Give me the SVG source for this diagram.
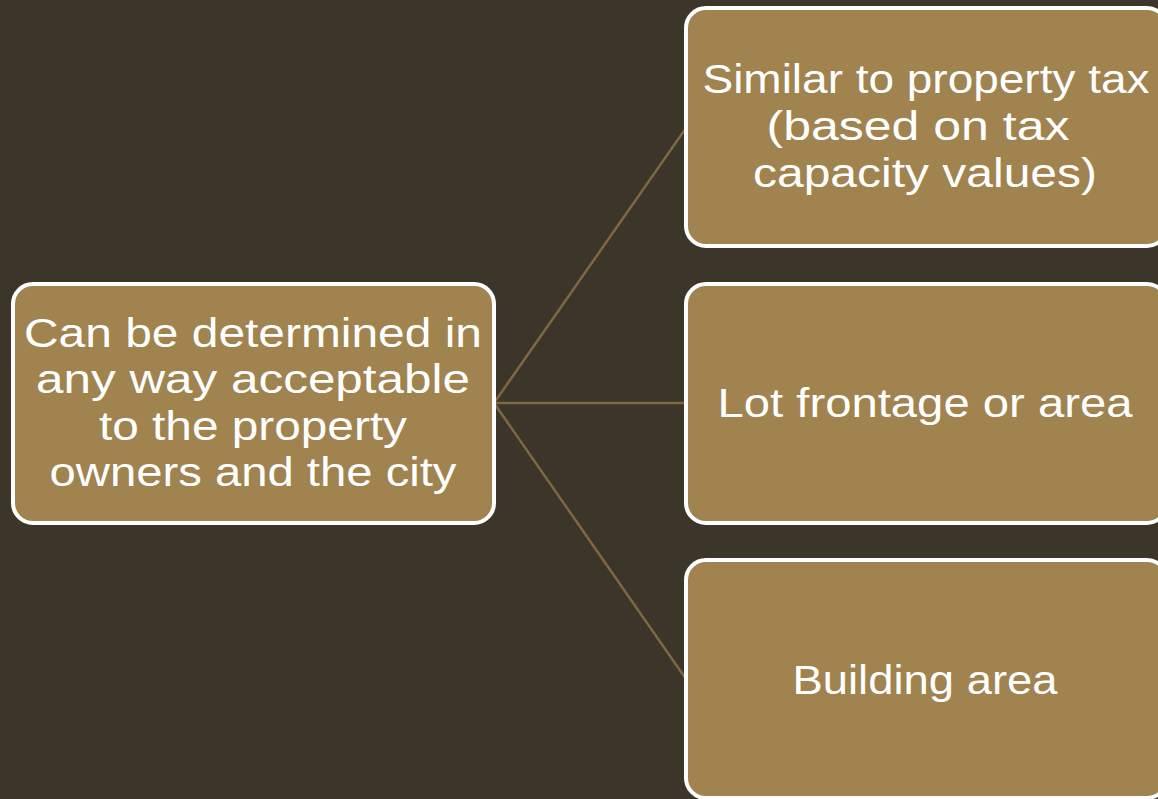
<svg xmlns="http://www.w3.org/2000/svg" width="1158" height="799" viewBox="0 0 1158 799">
<style>
.box{fill:#a0834f;stroke:#ffffff;stroke-width:4}
.t{font-family:"Liberation Sans",Arial,sans-serif;font-size:40px;fill:#ffffff;text-anchor:middle}
.c{stroke:#7d6842;stroke-width:2.5;fill:none}
</style>
<rect x="0" y="0" width="1158" height="799" fill="#3b3629"/>
<g id="connectors">
<line class="c" x1="494" y1="403" x2="686" y2="128"/>
<line class="c" x1="494" y1="403" x2="686" y2="403"/>
<line class="c" x1="494" y1="403" x2="686" y2="679"/>
</g>
<g id="root">
<rect class="box" x="13" y="284" width="481" height="239" rx="20"/>
<text class="t" x="253" y="347" textLength="458" lengthAdjust="spacingAndGlyphs">Can be determined in</text>
<text class="t" x="253" y="393" textLength="434" lengthAdjust="spacingAndGlyphs">any way acceptable</text>
<text class="t" x="253" y="440" textLength="308" lengthAdjust="spacingAndGlyphs">to the property</text>
<text class="t" x="253" y="486" textLength="407" lengthAdjust="spacingAndGlyphs">owners and the city</text>
</g>
<g id="n1">
<rect class="box" x="686" y="8" width="481" height="238" rx="20"/>
<text class="t" x="926" y="93" textLength="447" lengthAdjust="spacingAndGlyphs">Similar to property tax</text>
<text class="t" x="918" y="140" textLength="303" lengthAdjust="spacingAndGlyphs">(based on tax</text>
<text class="t" x="925" y="187" textLength="344" lengthAdjust="spacingAndGlyphs">capacity values)</text>
</g>
<g id="n2">
<rect class="box" x="686" y="284" width="481" height="239" rx="20"/>
<text class="t" x="925" y="417" textLength="415" lengthAdjust="spacingAndGlyphs">Lot frontage or area</text>
</g>
<g id="n3">
<rect class="box" x="686" y="560" width="481" height="238" rx="20"/>
<text class="t" x="925" y="694" textLength="265" lengthAdjust="spacingAndGlyphs">Building area</text>
</g>
</svg>
